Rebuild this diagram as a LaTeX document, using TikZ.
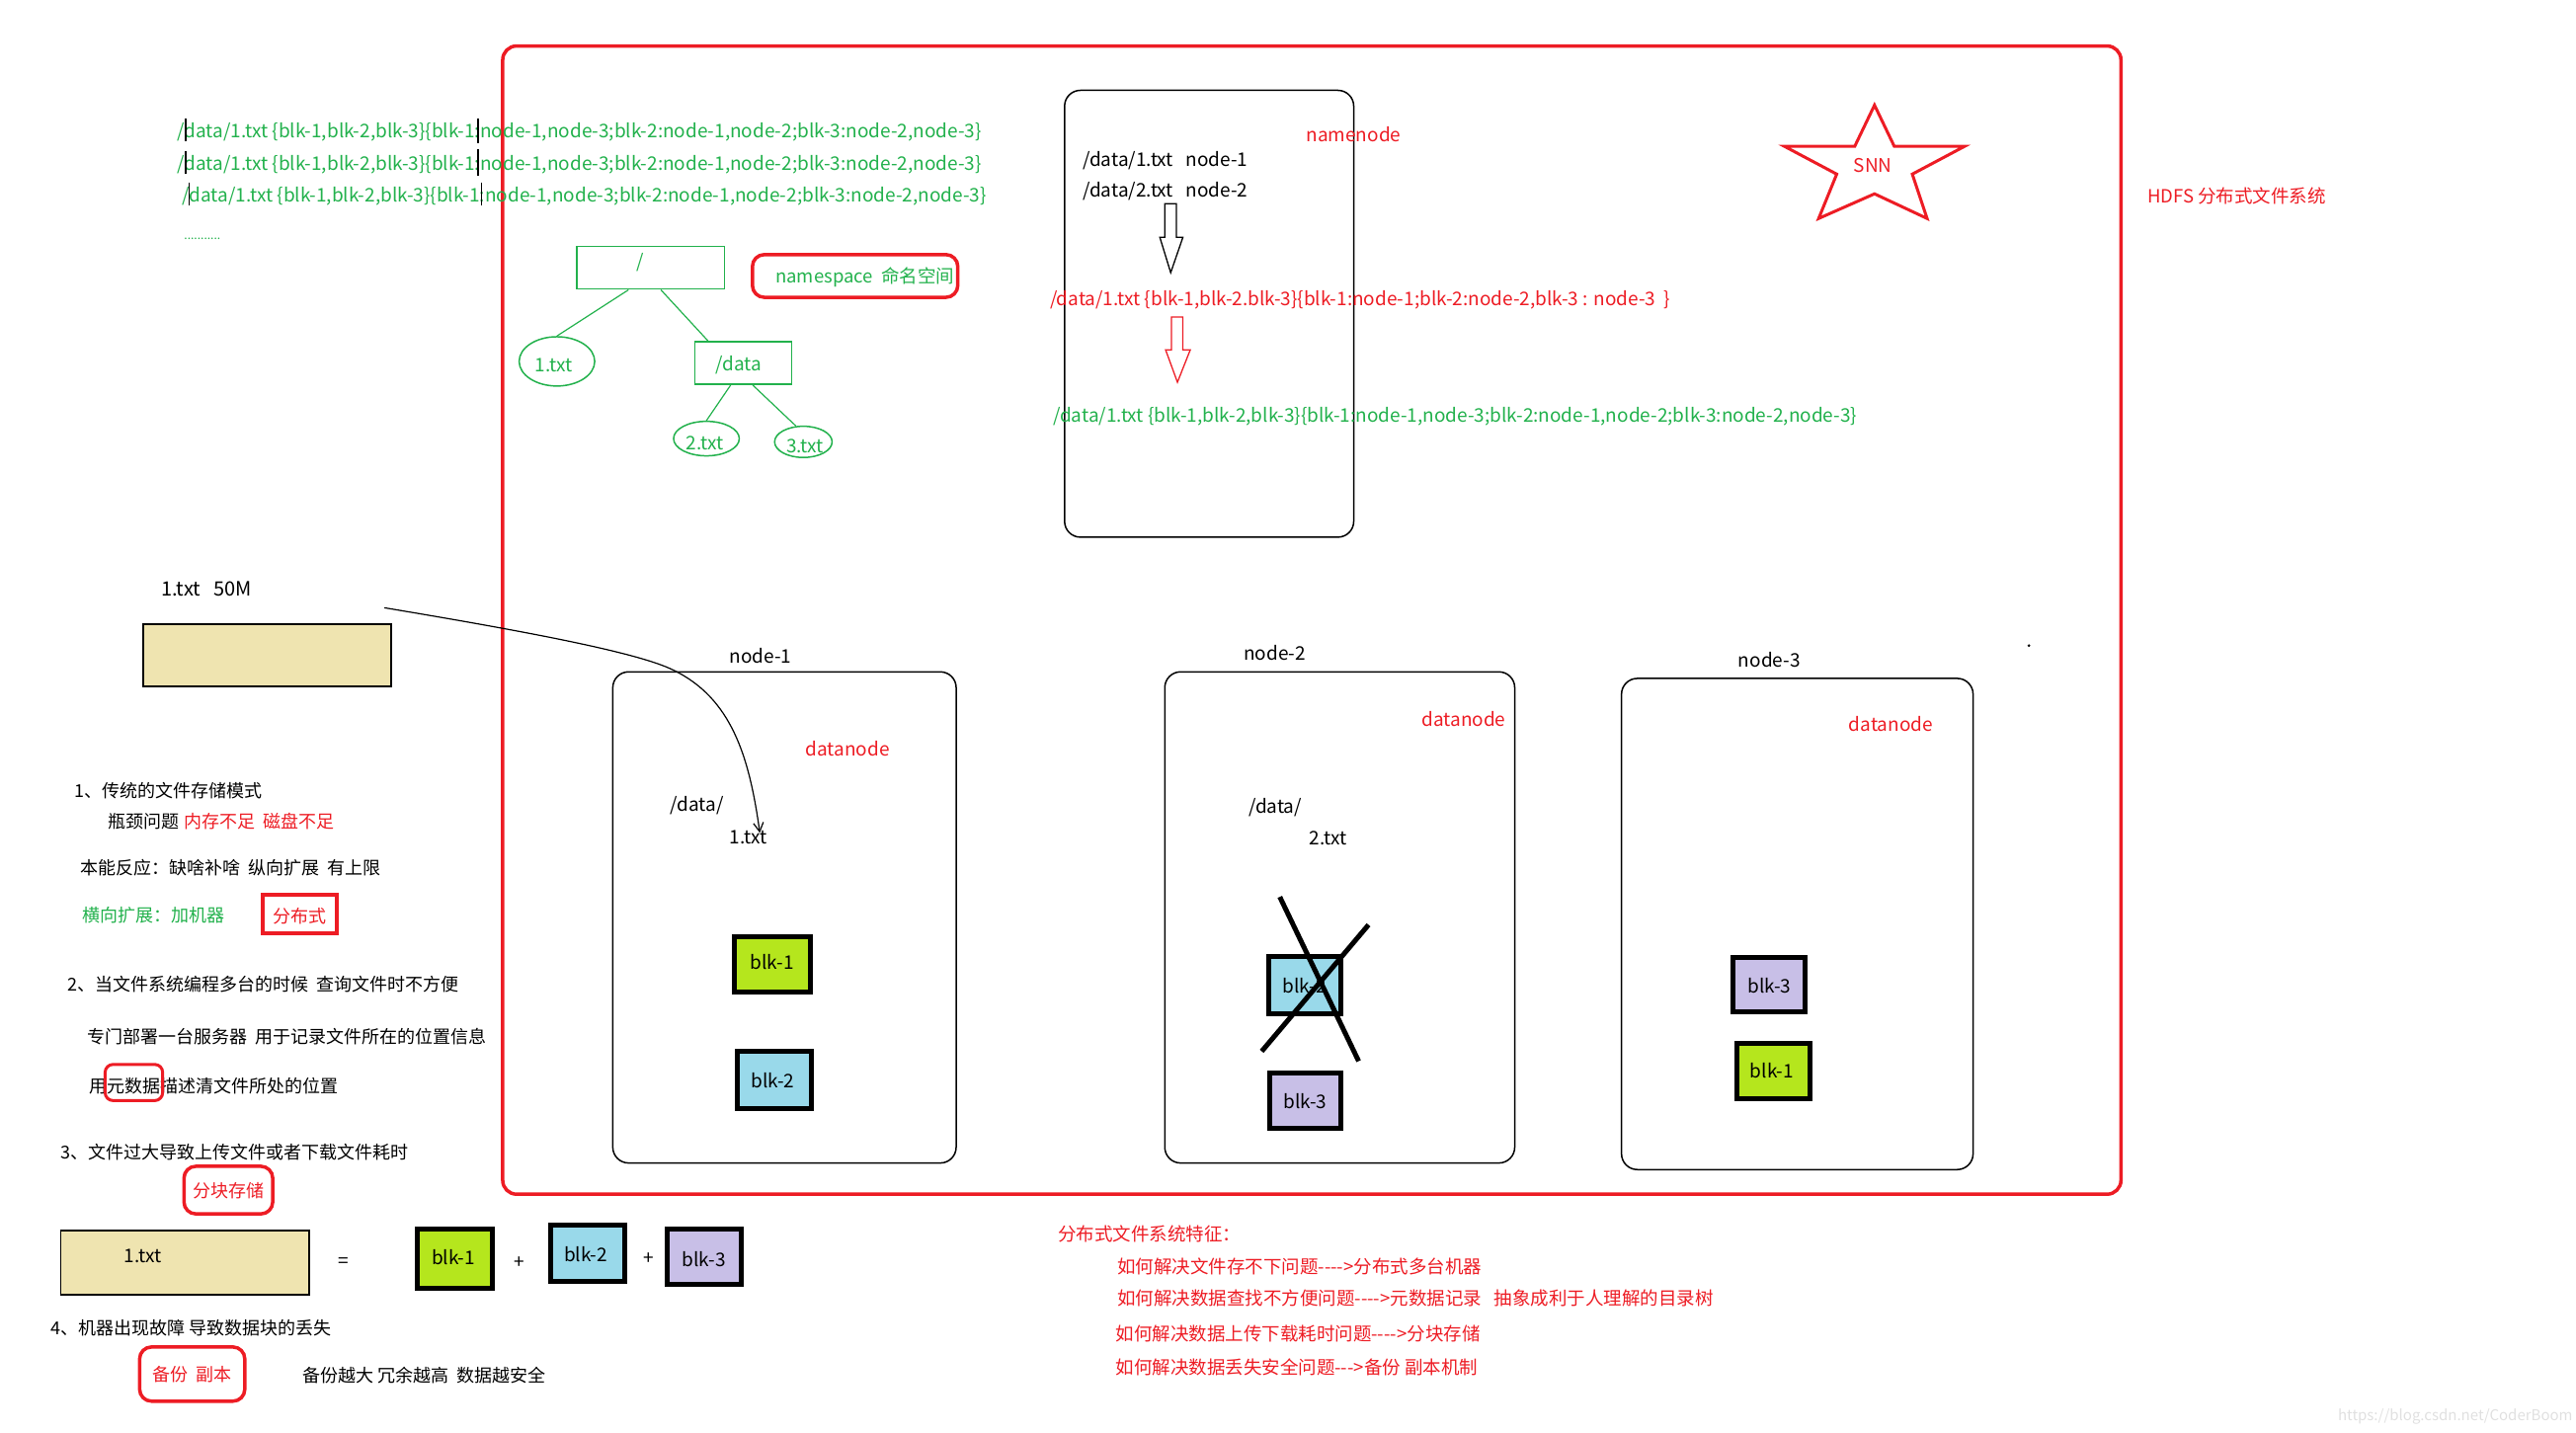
\documentclass[tikz,border=0pt]{standalone}
\usepackage{fontspec}
\setmainfont{Noto Sans CJK SC}
\usetikzlibrary{fit,shapes.geometric,arrows.meta,calc}
\definecolor{pred}{HTML}{ED1C24}
\definecolor{pgreen}{HTML}{22B14C}
\definecolor{ptan}{HTML}{EFE4B0}
\definecolor{plime}{HTML}{B5E61D}
\definecolor{pblue}{HTML}{99D9EA}
\definecolor{plav}{HTML}{C8BFE7}
\newcommand\myfs[1]{\fontsize{#1}{#1}\selectfont}
\begin{document}
\begin{tikzpicture}[x=1.6633pt,y=-1.6633pt,
  txt/.style={inner sep=0pt, font=\myfs{19}, yshift=-2.5pt},
  cn/.style={inner sep=0pt, font=\myfs{18}, yshift=-2pt},
  wtxt/.style={txt, anchor=west},
  wcn/.style={cn, anchor=west},
  scn/.style={inner sep=0pt, anchor=west, font=\myfs{18.5}, text=pred, yshift=-2pt},
  gline/.style={wtxt, text=pgreen},
  tline/.style={draw=pgreen, line width=1.2pt},
  treebox/.style={draw=pgreen, line width=1.5pt, inner sep=0pt},
  treeell/.style={draw=pgreen, line width=1.5pt, ellipse, inner sep=0pt},
  hostbox/.style={draw=black, line width=1.5pt, rounded corners=16pt, inner sep=0pt},
  blkbox/.style={draw=black, line width=5pt, inner sep=0pt},
  redmark/.style={draw=pred, line width=3.5pt, inner sep=0pt, rounded corners=12pt},
  tanbox/.style={draw=black, line width=1.8pt, fill=ptan, inner sep=0pt},
  cross/.style={draw=black, line width=5pt},
  cursor/.style={draw=black, line width=1.2pt}
]
\useasboundingbox (0,0) rectangle (1568,872);

% ---------- big red HDFS frame ----------
\node[draw=pred, line width=3.5pt, rounded corners=14pt, inner sep=0pt, fit={(306,28)(1291,727)}] (hdfs) {};
\node[wtxt, text=pred, font=\myfs{18.5}] (hdfslbl) at (1307,118) {HDFS 分布式文件系统};

% ---------- green metadata lines ----------
\node[gline] (g1) at (108,79) {/data/1.txt \{blk-1,blk-2,blk-3\}\{blk-1:node-1,node-3;blk-2:node-1,node-2;blk-3:node-2,node-3\}};
\node[gline] (g2) at (108,99) {/data/1.txt \{blk-1,blk-2,blk-3\}\{blk-1:node-1,node-3;blk-2:node-1,node-2;blk-3:node-2,node-3\}};
\node[gline] (g3) at (111,118) {/data/1.txt \{blk-1,blk-2,blk-3\}\{blk-1:node-1,node-3;blk-2:node-1,node-2;blk-3:node-2,node-3\}};
\node[wtxt, text=pgreen, font=\myfs{12}] (gdots) at (112,144) {...........};
% text cursor marks
\draw[cursor] (113,72) -- (113,86);
\draw[cursor] (113,92) -- (113,106);
\draw[cursor] (115,111) -- (115,125);
\draw[cursor] (291,72) -- (291,87);
\draw[cursor] (291,91) -- (291,107);
\draw[cursor] (293,111) -- (293,125);

% ---------- namespace tree ----------
\node[treebox, fit={(351,150)(441,176)}] (root) {};
\node[txt, text=pgreen] (roott) at ($(root)+(-6,-5)$) {/};
\node[treebox, fit={(423,208)(482,234)}] (ddir) {};
\node[txt, text=pgreen] (ddirt) at ($(ddir)+(-3,0)$) {/data};
\node[treeell, minimum width=46*1.6633pt, minimum height=30*1.6633pt] (f1) at (339,220) {};
\node[txt, text=pgreen] (f1t) at ($(f1)+(-2,1)$) {1.txt};
\node[treeell, minimum width=40*1.6633pt, minimum height=21*1.6633pt] (f2) at (430,267) {};
\node[txt, text=pgreen] (f2t) at ($(f2)+(-1,1)$) {2.txt};
\node[treeell, minimum width=35*1.6633pt, minimum height=19*1.6633pt] (f3) at (489,269) {};
\node[txt, text=pgreen] (f3t) at ($(f3)+(1,1)$) {3.txt};
\draw[tline] (root.225) -- (f1.north);
\draw[tline] (root.-65) -- (ddir.148);
\draw[tline] (ddir.240) -- (f2.north);
\draw[tline] (ddir.-67) -- (f3.115);
\node[redmark, fit={(458,155)(583,181)}] (nsbox) {};
\node[wtxt, text=pgreen, font=\myfs{18.5}] (nslbl) at (472,167) {namespace~~命名空间};

% ---------- namenode ----------
\node[hostbox, fit={(648,55)(824,327)}] (nn) {};
\node[wtxt, text=pred] (nnlbl) at (795,80) {namenode};
\node[wtxt] (nn1) at (659,96) {/data/1.txt~~~node-1};
\node[wtxt] (nn2) at (659,115) {/data/2.txt~~~node-2};
\draw[line width=1.3pt] (709,124) -- (716,124) -- (716,144.5) -- (720,144.5) -- (712.6,166) -- (706,144.5) -- (709,144.5) -- cycle;
\node[wtxt, text=pred] (rline) at (639,181) {/data/1.txt \{blk-1,blk-2.blk-3\}\{blk-1:node-1;blk-2:node-2,blk-3 : node-3~~\}};
\draw[pred, line width=1.3pt] (713,193) -- (720,193) -- (720,213) -- (724.5,213) -- (716.7,232.7) -- (709.5,213) -- (713,213) -- cycle;
\node[gline] (gline4) at (641,252) {/data/1.txt \{blk-1,blk-2,blk-3\}\{blk-1:node-1,node-3;blk-2:node-1,node-2;blk-3:node-2,node-3\}};

% ---------- SNN star ----------
\draw[pred, line width=3pt, line join=miter]
  (1141,64) -- (1153,89) -- (1196,89) -- (1164,106) -- (1173,133) -- (1141,118)
  -- (1107,133) -- (1118,106) -- (1086,89) -- (1129,89) -- cycle;
\node[txt, text=pred] (snn) at (1140,99) {SNN};

% ---------- file 1.txt 50M ----------
\node[wtxt, font=\myfs{20}] (f50lbl) at (98,357) {1.txt~~~50M};
\node[tanbox, fit={(87,380)(238,418)}] (f50) {};

% ---------- datanodes ----------
\node[txt] (n1lbl) at (463,398) {node-1};
\node[hostbox, fit={(373,409)(582,708)}] (dn1) {};
\node[txt, text=pred] (dn1t) at (516,454) {datanode};
\node[wtxt] (dn1d) at (408,489) {/data/};
\node[wtxt] (dn1f) at (444,508) {1.txt};
\node[blkbox, fill=plime, fit={(447,570)(493,604)}] (n1b1) {};
\node[txt] (n1b1t) at ($(n1b1)+(0,-3)$) {blk-1};
\node[blkbox, fill=pblue, fit={(449,640)(494,675)}] (n1b2) {};
\node[txt] (n1b2t) at ($(n1b2)+(-1,-1)$) {blk-2};

\node[txt] (n2lbl) at (776,396) {node-2};
\node[hostbox, fit={(709,409)(922,708)}] (dn2) {};
\node[txt, text=pred] (dn2t) at (891,436) {datanode};
\node[wtxt] (dn2d) at (760,490) {/data/};
\node[wtxt] (dn2f) at (797,509) {2.txt};
\node[blkbox, fill=pblue, fit={(772,582)(816,617)}] (n2b2) {};
\node[txt] (n2b2t) at ($(n2b2)+(0,-1)$) {blk-2};
\node[blkbox, fill=plav, fit={(773,653)(816,687)}] (n2b3) {};
\node[txt] (n2b3t) at ($(n2b3)+(0,-1)$) {blk-3};
\draw[cross] (779,546) -- (827,646);
\draw[cross] (768,640) -- (833,563);

\node[txt] (n3lbl) at (1077,400) {node-3};
\node[hostbox, fit={(987,413)(1201,712)}] (dn3) {};
\node[txt, text=pred] (dn3t) at (1151,439) {datanode};
\node[blkbox, fill=plav, fit={(1055,583)(1099,616)}] (n3b3) {};
\node[txt] (n3b3t) at ($(n3b3)+(0,-1)$) {blk-3};
\node[blkbox, fill=plime, fit={(1057,635)(1102,669)}] (n3b1) {};
\node[txt] (n3b1t) at ($(n3b1)+(-1,-2)$) {blk-1};
\fill (1235,393) circle (1.5pt);

% upload curve
\coordinate (cs) at (234,370);
\coordinate (ce) at (462.5,507);
\draw[line width=1.2pt, -{Straight Barb[length=9pt,width=10pt]}]
  (cs) .. controls (330,386) and (390,398) .. (410,408) .. controls (445,425) and (456,460) .. (ce);

% ---------- left notes ----------
\node[wcn] (t1) at (45,480) {1、传统的文件存储模式};
\node[wcn] (t1a) at (66,499) {瓶颈问题 \textcolor{pred}{内存不足~~磁盘不足}};
\node[wcn] (t1b) at (49,527) {本能反应：缺啥补啥~~纵向扩展~~有上限};
\node[wcn, text=pgreen] (t1c) at (50,556) {横向扩展：加机器};
\node[draw=pred, line width=4pt, inner sep=0pt, fit={(160,545)(205,568)}] (fbs) {};
\node[cn, text=pred] (fbst) at ($(fbs)+(0,0)$) {分布式};
\node[wcn] (t2) at (41,598) {2、当文件系统编程多台的时候~~查询文件时不方便};
\node[wcn] (t2a) at (53,630) {专门部署一台服务器~~用于记录文件所在的位置信息};
\node[wcn] (t2b) at (54,660) {用元数据描述清文件所处的位置};
\node[redmark, line width=3pt, rounded corners=8pt, fit={(64,648)(99,670)}] (meta) {};
\node[wcn] (t3) at (37,700) {3、文件过大导致上传文件或者下载文件耗时};
\node[redmark, fit={(112,710)(166,739)}] (fkcc) {};
\node[cn, text=pred] (fkcct) at ($(fkcc)+(0,-1)$) {分块存储};
\node[tanbox, fit={(37,749)(188,788)}] (f1big) {};
\node[txt] (f1bigt) at (87,763) {1.txt};
\node[txt] (eq) at (209,767) {=};
\node[blkbox, fill=plime, fit={(254,748)(300,784)}] (bb1) {};
\node[txt] (bb1t) at ($(bb1)+(-1,-2)$) {blk-1};
\node[txt] (p1) at (316,767) {+};
\node[blkbox, fill=pblue, fit={(335,746)(380,780)}] (bb2) {};
\node[txt] (bb2t) at ($(bb2)+(-1,-1)$) {blk-2};
\node[txt] (p2) at (395,765) {+};
\node[blkbox, fill=plav, fit={(406,748)(451,782)}] (bb3) {};
\node[txt] (bb3t) at ($(bb3)+(0,0)$) {blk-3};
\node[wcn] (t4) at (31,807) {4、机器出现故障 导致数据块的丢失};
\node[redmark, fit={(85,820)(149,853)}] (bkfb) {};
\node[cn, text=pred] (bkfbt) at ($(bkfb)+(0,-1)$) {备份~~副本};
\node[wcn] (t4a) at (184,836) {备份越大 冗余越高~~数据越安全};

% ---------- bottom red summary ----------
\node[scn] (s0) at (644,750) {分布式文件系统特征：};
\node[scn] (s1) at (680,770) {如何解决文件存不下问题-{}-{}-{}->分布式多台机器};
\node[scn] (s2) at (680,789) {如何解决数据查找不方便问题-{}-{}-{}->元数据记录~~~抽象成利于人理解的目录树};
\node[scn] (s3) at (679,811) {如何解决数据上传下载耗时问题-{}-{}-{}->分块存储};
\node[scn] (s4) at (679,831) {如何解决数据丢失安全问题-{}-{}->备份 副本机制};

\node[wcn, text=black!12, font=\myfs{15}] (wm) at (1423,861) {https://blog.csdn.net/CoderBoom};
\end{tikzpicture}
\end{document}
